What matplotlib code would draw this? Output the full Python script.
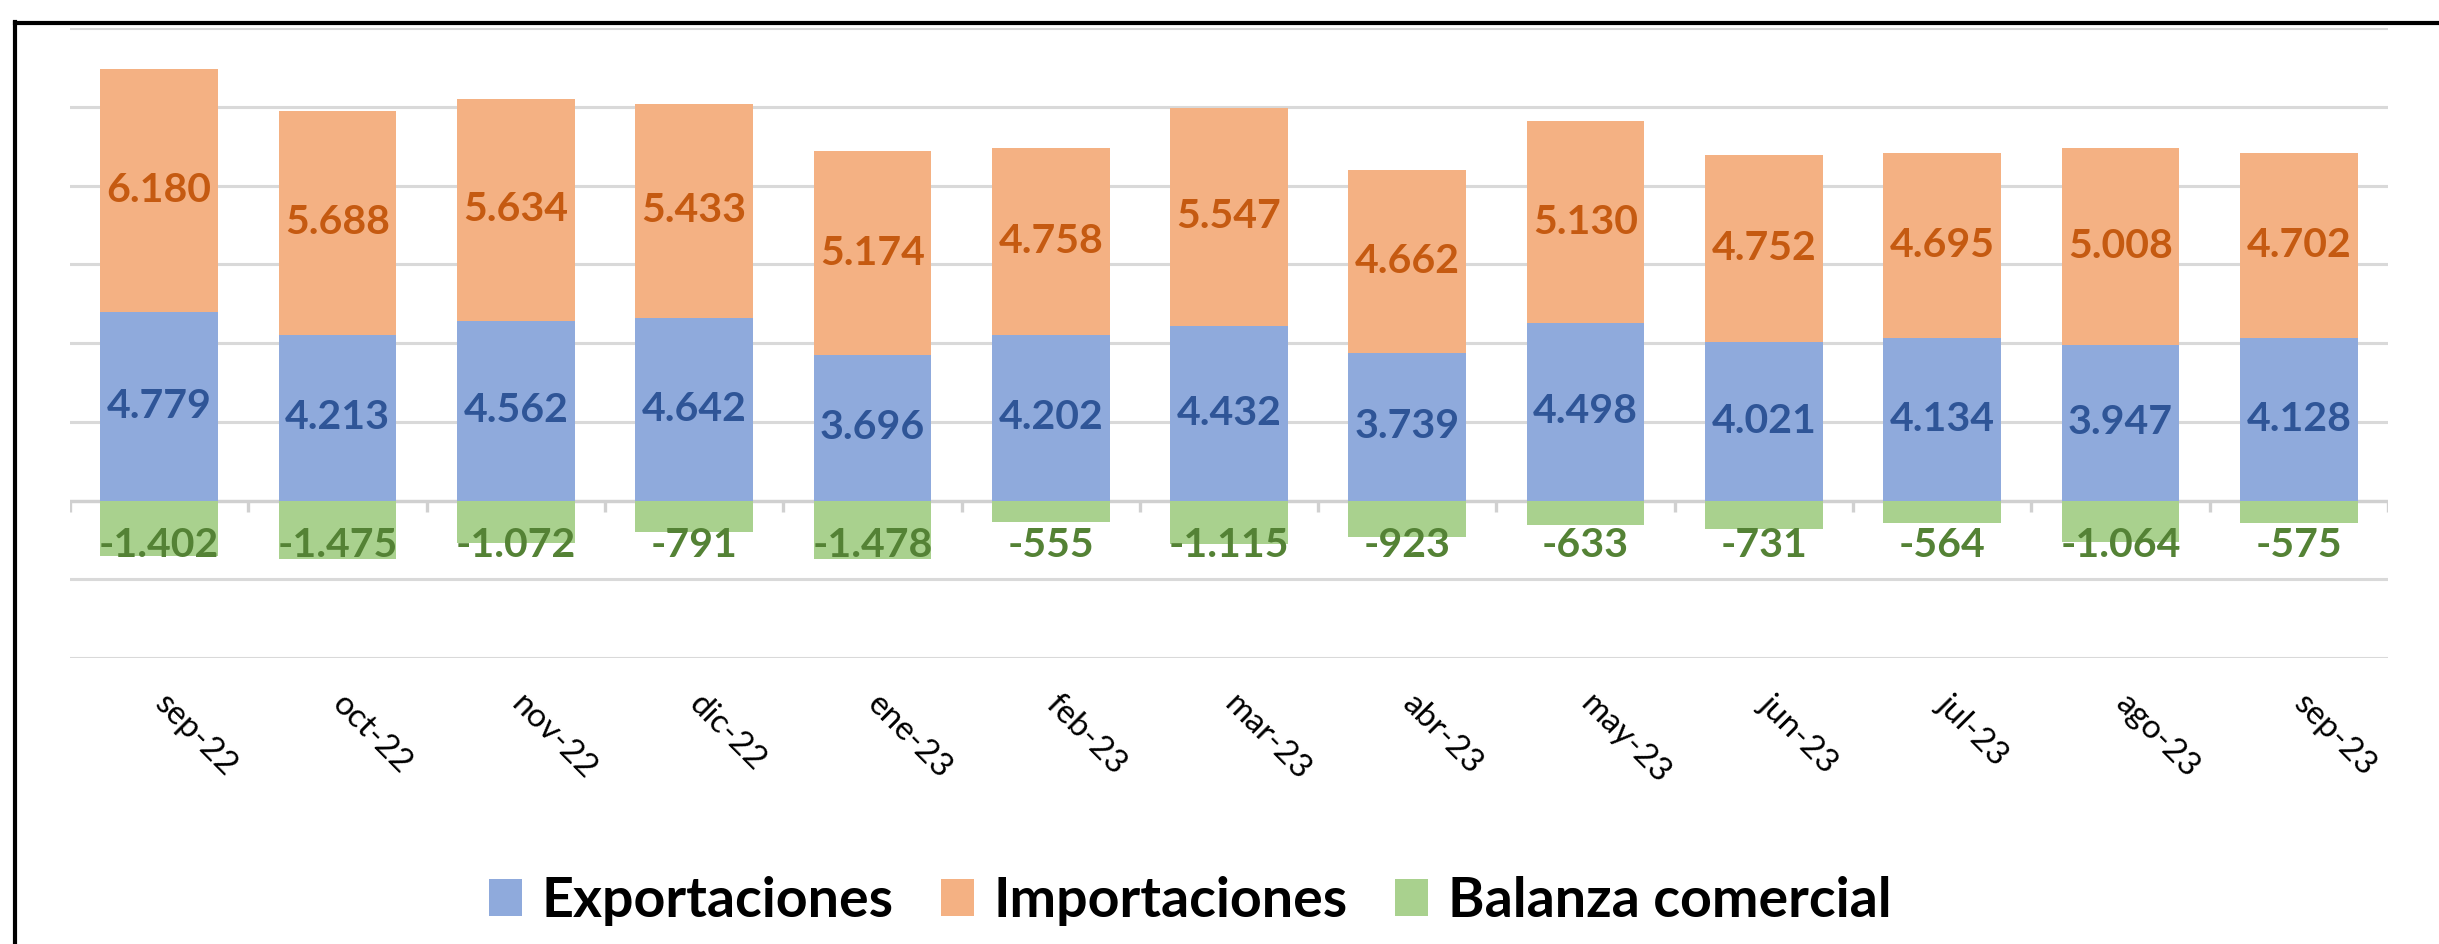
import matplotlib
matplotlib.use("Agg")
import matplotlib.pyplot as plt
from matplotlib.patches import Patch
from matplotlib.lines import Line2D
import numpy as np

categories = ["sep-22", "oct-22", "nov-22", "dic-22", "ene-23", "feb-23", "mar-23",
              "abr-23", "may-23", "jun-23", "jul-23", "ago-23", "sep-23"]
exportaciones = [4779, 4213, 4562, 4642, 3696, 4202, 4432, 3739, 4498, 4021, 4134, 3947, 4128]
importaciones = [6180, 5688, 5634, 5433, 5174, 4758, 5547, 4662, 5130, 4752, 4695, 5008, 4702]
balanza = [-1402, -1475, -1072, -791, -1478, -555, -1115, -923, -633, -731, -564, -1064, -575]
series_names = ["Exportaciones", "Importaciones", "Balanza comercial"]

c_exp, c_imp, c_bal = "#8FAADC", "#F4B183", "#A9D18E"
t_exp, t_imp, t_bal = "#2F5597", "#C55A11", "#548235"

plt.rcParams['font.family'] = ['Lato', 'DejaVu Sans']

W, H = 2439, 944
fig = plt.figure(figsize=(W / 100, H / 100), dpi=100)
ax = fig.add_axes([70 / W, 1 - 658 / H, (2388 - 70) / W, (658 - 28) / H])

x = np.arange(len(categories))
bw = 0.66
ax.bar(x, exportaciones, bw, color=c_exp, zorder=3)
ax.bar(x, importaciones, bw, bottom=exportaciones, color=c_imp, zorder=3)
ax.bar(x, balanza, bw, color=c_bal, zorder=3)

ax.set_xlim(-0.5, len(categories) - 0.5)
ax.set_ylim(-4000, 12000)
ax.set_yticks(np.arange(-4000, 12001, 2000))
ax.yaxis.grid(True, color="#D9D9D9", linewidth=2.2, zorder=0)
ax.set_axisbelow(True)
ax.tick_params(axis="y", left=False, labelleft=False)
for s in ax.spines.values():
    s.set_visible(False)

# zero axis line and category tick marks
ax.axhline(0, color="#D0D0D0", linewidth=2.4, zorder=2)
ax.vlines(np.arange(-0.5, len(categories), 1.0), -300, 0, color="#D0D0D0", linewidth=2.4, zorder=2)

ax.set_xticks(x)
ax.set_xticklabels(categories, rotation=-45, ha="left", va="center",
                   rotation_mode="anchor", fontsize=24, color="black")
ax.tick_params(axis="x", length=0, pad=30)

fs = 29.5
for i in range(len(categories)):
    ax.text(x[i], exportaciones[i] / 2, f"{exportaciones[i]/1000:.3f}",
            ha="center", va="center", fontsize=fs, fontweight="bold", color=t_exp, zorder=4)
    ax.text(x[i], exportaciones[i] + importaciones[i] / 2, f"{importaciones[i]/1000:.3f}",
            ha="center", va="center", fontsize=fs, fontweight="bold", color=t_imp, zorder=4)
    b = balanza[i]
    lab = f"{b/1000:.3f}" if abs(b) >= 1000 else f"{b}"
    ax.text(x[i], -1150, lab, ha="center", va="center", fontsize=fs,
            fontweight="bold", color=t_bal, zorder=4)

handles = [Patch(facecolor=c, edgecolor="none") for c in (c_exp, c_imp, c_bal)]
fig.legend(handles, series_names, loc="center", bbox_to_anchor=(1190 / W, 1 - 901 / H),
           ncol=3, frameon=False, handlelength=0.6, handleheight=0.65,
           handletextpad=0.35, columnspacing=0.85, prop={"weight": "bold", "size": 40})

# outer frame (left and top visible)
fig.add_artist(Line2D([15 / W, 15 / W], [0, 1 - 22 / H], color="black", linewidth=3,
                      transform=fig.transFigure))
fig.add_artist(Line2D([15 / W, 1], [1 - 23 / H, 1 - 23 / H], color="black", linewidth=3,
                      transform=fig.transFigure))

fig.savefig("out.png", dpi=100)
